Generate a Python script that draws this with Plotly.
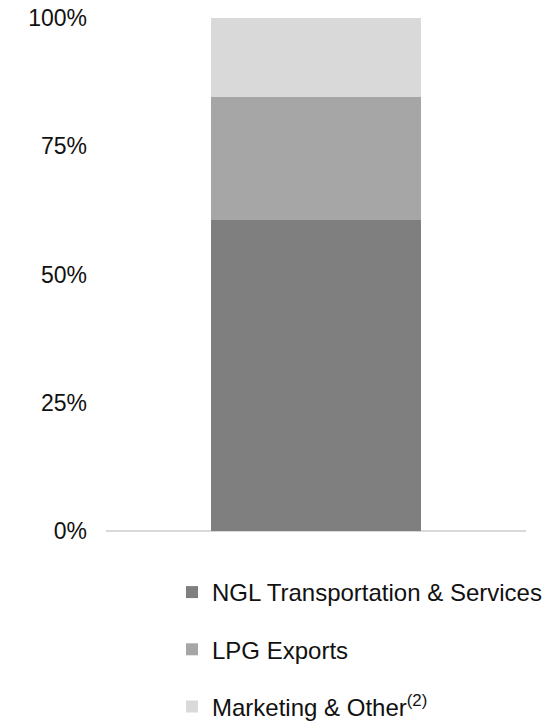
import plotly.graph_objects as go

# Revenue mix by segment (share of total, %)
category = ["Total"]
segments = ["NGL Transportation & Services", "LPG Exports", "Marketing & Other<sup>(2)</sup>"]
shares = [60.6, 24.0, 15.4]
colors = ["#7f7f7f", "#a6a6a6", "#d9d9d9"]
y_ticks = [0, 25, 50, 75, 100]
y_tick_text = ["0%", "25%", "50%", "75%", "100%"]

FONT = "Liberation Sans, Arial, sans-serif"

# plot area in pixels
W, H = 559, 722
L, R, T, B = 106, 33, 18, 191
plot_w = W - L - R
plot_h = H - T - B

fig = go.Figure()
for i, (name, val, col) in enumerate(zip(segments, shares, colors)):
    fig.add_trace(go.Bar(
        x=category, y=[val], name=name, marker=dict(color=col, line=dict(width=0)),
        width=0.5, legendgroup=f"g{i}", hoverinfo="skip",
    ))

fig.update_layout(
    width=W, height=H,
    margin=dict(l=L, r=R, t=T, b=B, autoexpand=False),
    barmode="stack",
    plot_bgcolor="white", paper_bgcolor="white",
    font=dict(family=FONT, size=23, color="#111111"),
    xaxis=dict(visible=True, showticklabels=False, showgrid=False, zeroline=False,
               showline=False, range=[-0.5, 0.5]),
    yaxis=dict(range=[0, 100], tickvals=y_ticks, ticktext=y_tick_text,
               showgrid=False, zeroline=True, zerolinecolor="#d9d9d9", zerolinewidth=1.5,
               showline=False, ticks="", ticklabelstandoff=18,
               tickfont=dict(family=FONT, size=23, color="#111111")),
    showlegend=True,
    legend=dict(orientation="v", traceorder="grouped", tracegroupgap=23,
                x=(172 - L) / plot_w, xanchor="left",
                y=(H - B - 570) / plot_h, yanchor="top",
                font=dict(family=FONT, size=24, color="#111111"),
                bgcolor="rgba(0,0,0,0)", itemclick=False),
)

fig.write_html("out.html")
